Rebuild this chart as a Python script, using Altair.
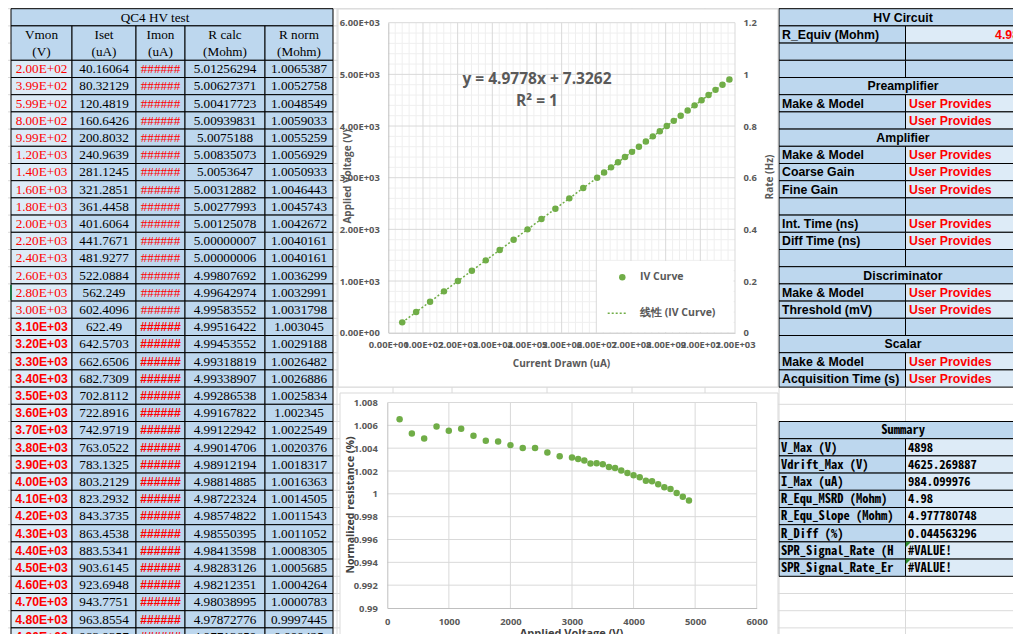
import altair as alt
import pandas as pd

# ---------------- values read from the sheet ----------------
table_title = "QC4 HV test"
col_headers = ["Vmon", "Iset", "Imon", "R calc", "R norm"]
col_units = ["(V)", "(uA)", "(uA)", "(Mohm)", "(Mohm)"]

vmon = [200, 399, 599, 800, 999, 1200, 1400, 1600, 1800, 2000, 2200, 2400, 2600, 2800, 3000,
        3100, 3200, 3300, 3400, 3500, 3600, 3700, 3800, 3900, 4000, 4100, 4200, 4300, 4400,
        4500, 4600, 4700, 4800, 4900]
iset = [40.16064, 80.32129, 120.4819, 160.6426, 200.8032, 240.9639, 281.1245, 321.2851,
        361.4458, 401.6064, 441.7671, 481.9277, 522.0884, 562.249, 602.4096, 622.49,
        642.5703, 662.6506, 682.7309, 702.8112, 722.8916, 742.9719, 763.0522, 783.1325,
        803.2129, 823.2932, 843.3735, 863.4538, 883.5341, 903.6145, 923.6948, 943.7751,
        963.8554, 983.9357]
imon_shown = "######"
rcalc = [5.01256294, 5.00627371, 5.00417723, 5.00939831, 5.0075188, 5.00835073, 5.0053647,
         5.00312882, 5.00277993, 5.00125078, 5.00000007, 5.00000006, 4.99807692, 4.99642974,
         4.99583552, 4.99516422, 4.99453552, 4.99318819, 4.99338907, 4.99286538, 4.99167822,
         4.99122942, 4.99014706, 4.98912194, 4.98814885, 4.98722324, 4.98574822, 4.98550395,
         4.98413598, 4.98283126, 4.98212351, 4.98038995, 4.97872776, 4.97713659]
rnorm = [1.0065387, 1.0052758, 1.0048549, 1.0059033, 1.0055259, 1.0056929, 1.0050933,
         1.0046443, 1.0045743, 1.0042672, 1.0040161, 1.0040161, 1.0036299, 1.0032991,
         1.0031798, 1.003045, 1.0029188, 1.0026482, 1.0026886, 1.0025834, 1.002345,
         1.0022549, 1.0020376, 1.0018317, 1.0016363, 1.0014505, 1.0011543, 1.0011052,
         1.0008305, 1.0005685, 1.0004264, 1.0000783, 0.9997445, 0.999425]

fit_equation = "y = 4.9778x + 7.3262"
fit_r2 = "R² = 1"
legend_labels = ["IV Curve", "线性 (IV Curve)"]
iv_title_x = "Current Drawn (uA)"
iv_title_y = "Applied Voltage (V)"
iv_title_y2 = "Rate (Hz)"
rn_title_x = "Applied Voltage (V)"
rn_title_y = "Normalized resistance (%)"

iv_x_ticks = [0, 100, 200, 300, 400, 500, 600, 700, 800, 900, 1000]
iv_y_ticks = [0, 1000, 2000, 3000, 4000, 5000, 6000]
rate_ticks = [0, 0.2, 0.4, 0.6, 0.8, 1, 1.2]
rn_x_ticks = [0, 1000, 2000, 3000, 4000, 5000, 6000]
rn_y_ticks = [0.99, 0.992, 0.994, 0.996, 0.998, 1.0, 1.002, 1.004, 1.006, 1.008]

panel_kind = ["head", "row", "blank", "blank", "head", "row", "row", "head", "row", "row",
              "row", "blank", "row", "row", "blank", "head", "row", "row", "blank", "head",
              "row", "row"]
panel_label = ["HV Circuit", "R_Equiv (Mohm)", "", "", "Preamplifier", "Make & Model", "",
               "Amplifier", "Make & Model", "Coarse Gain", "Fine Gain", "", "Int. Time (ns)",
               "Diff Time (ns)", "", "Discriminator", "Make & Model", "Threshold (mV)", "",
               "Scalar", "Make & Model", "Acquisition Time (s)"]
panel_value = ["", "4.98", "", "", "", "User Provides", "User Provides", "", "User Provides",
               "User Provides", "User Provides", "", "User Provides", "User Provides", "", "",
               "User Provides", "User Provides", "", "", "User Provides", "User Provides"]
summary_title = "Summary"
summary_label = ["V_Max (V)", "Vdrift_Max (V)", "I_Max (uA)", "R_Equ_MSRD (Mohm)",
                 "R_Equ_Slope (Mohm)", "R_Diff (%)", "SPR_Signal_Rate (H", "SPR_Signal_Rate_Er"]
summary_value = ["4898", "4625.269887", "984.099976", "4.98", "4.977780748", "0.044563296",
                 "#VALUE!", "#VALUE!"]

# ---------------- layout (page pixels) ----------------
W, H = 1005, 626
OX, OY = 8, 8
ROW_TOP, ROW_H = 8.7, 17.2
N_ROWS = 38


def ry(k):
    return ROW_TOP + ROW_H * k


def rc(k):
    return ry(k) + ROW_H / 2 + 0.3


L_EDGES = [11, 72, 136, 185, 265, 333]
R_EDGES = [779, 905.5, 1090]
SHEET_COLS = [72, 136, 185, 265, 337, 393, 452, 547, 632, 705, 779, 905.5]
C1_BOX = (338, 9, 778, 387)
C1_X0, C1_X1, C1_Y0, C1_Y1 = 388.3, 735, 332.7, 22.7
C2_BOX = (340, 393, 778, 670)
C2_X0, C2_X1, C2_Y0, C2_Y1 = 387.3, 756.7, 608, 402.5

MID, LIGHT, RED, GREEN, INK = "#BDD7EE", "#DDEBF7", "#FF0000", "#70AD47", "#595959"
SERIF, SANS, CF = "Liberation Serif", "Liberation Sans", "Open Sans"
MONO = "Noto Sans Mono CJK SC, Liberation Mono"

PXS = alt.Scale(domain=[OX, OX + W], range=[0, W])
PYS = alt.Scale(domain=[OY, OY + H], range=[0, H])


def px(f):
    return alt.X(f"{f}:Q", scale=PXS, axis=None)


def py(f):
    return alt.Y(f"{f}:Q", scale=PYS, axis=None)


def rect_layer(rows, stroke="black", sw=1.0):
    df = pd.DataFrame(rows, columns=["x1", "y1", "x2", "y2", "fill"])
    return alt.Chart(df).mark_rect(stroke=stroke, strokeWidth=sw).encode(
        x=px("x1"), x2="x2", y=py("y1"), y2="y2", fill=alt.Fill("fill:N", scale=None))


def rule_layer(rows, color, width=1.0, dash=None):
    df = pd.DataFrame(rows, columns=["x1", "y1", "x2", "y2"])
    kw = dict(color=color, strokeWidth=width)
    if dash:
        kw["strokeDash"] = dash
    return alt.Chart(df).mark_rule(**kw).encode(x=px("x1"), x2="x2", y=py("y1"), y2="y2")


def text_layer(rows, font, size, weight="normal", align="center", angle=0):
    df = pd.DataFrame(rows, columns=["x", "y", "t", "c"])
    return alt.Chart(df).mark_text(font=font, fontSize=size, fontWeight=weight, align=align,
                                   baseline="middle", angle=angle).encode(
        x=px("x"), y=py("y"), text="t:N", color=alt.Color("c:N", scale=None))


layers = []

# spreadsheet gridlines
layers.append(rule_layer([(OX, ry(k), OX + W, ry(k)) for k in range(N_ROWS)]
                         + [(x, OY, x, OY + H) for x in SHEET_COLS], "#DADADA"))

# ---------------- left table ----------------
cells = [(L_EDGES[0], ry(0), L_EDGES[-1], ry(1), MID)]
for c in range(5):
    cells.append((L_EDGES[c], ry(1), L_EDGES[c + 1], ry(3), MID))
for r in range(len(vmon)):
    for c in range(5):
        cells.append((L_EDGES[c], ry(3 + r), L_EDGES[c + 1], ry(4 + r), LIGHT if c == 0 else MID))
layers.append(rect_layer(cells))
layers.append(rule_layer([(11, ry(16) + 1, 11, ry(17) - 1)], "#217346", 2))

cx = [(L_EDGES[c] + L_EDGES[c + 1]) / 2 for c in range(5)]
serif_txt = [(155, rc(0), table_title, "black")]
sans_txt = []
for c in range(5):
    serif_txt.append((cx[c], rc(1), col_headers[c], "black"))
    serif_txt.append((cx[c], rc(2), col_units[c], "black"))
for r in range(len(vmon)):
    k = 3 + r
    red_items = [(cx[0], rc(k), f"{vmon[r]:.2E}", RED), (cx[2], rc(k), imon_shown, RED)]
    if r < 15:
        serif_txt += red_items
    else:
        sans_txt += red_items
    serif_txt.append((cx[1], rc(k), str(iset[r]), "black"))
    serif_txt.append((cx[3], rc(k), str(rcalc[r]), "black"))
    serif_txt.append((cx[4], rc(k), str(rnorm[r]), "black"))
layers.append(text_layer(serif_txt, SERIF, 13.2))
layers.append(text_layer(sans_txt, SANS, 12.2, "bold"))

# ---------------- right panel ----------------
pcells, head_txt, lab_txt, val_txt, val_r_txt = [], [], [], [], []
for i, kind in enumerate(panel_kind):
    if kind == "head":
        pcells.append((R_EDGES[0], ry(i), R_EDGES[2], ry(i + 1), MID))
        head_txt.append((903, rc(i), panel_label[i], "black"))
    else:
        pcells.append((R_EDGES[0], ry(i), R_EDGES[1], ry(i + 1), MID))
        pcells.append((R_EDGES[1], ry(i), R_EDGES[2], ry(i + 1), LIGHT if kind == "row" else MID))
        if panel_label[i]:
            lab_txt.append((782, rc(i), panel_label[i], "black"))
        if panel_value[i] == "User Provides":
            val_txt.append((909, rc(i), panel_value[i], RED))
        elif panel_value[i]:
            val_r_txt.append((1019, rc(i), panel_value[i], RED))
S0 = 24
pcells.append((R_EDGES[0], ry(S0), R_EDGES[2], ry(S0 + 1), MID))
for j in range(len(summary_label)):
    pcells.append((R_EDGES[0], ry(S0 + 1 + j), R_EDGES[1], ry(S0 + 2 + j), MID))
    pcells.append((R_EDGES[1], ry(S0 + 1 + j), R_EDGES[2], ry(S0 + 2 + j), LIGHT))
layers.append(rect_layer(pcells))
layers.append(text_layer(head_txt, SANS, 12.3, "bold"))
layers.append(text_layer(lab_txt, SANS, 12.3, "bold", "left"))
layers.append(text_layer(val_txt, SANS, 12.3, "bold", "left"))
layers.append(text_layer(val_r_txt, SANS, 12.3, "bold", "right"))
layers.append(text_layer([(903, rc(S0), summary_title, "black")], MONO, 12.5, "bold"))
layers.append(text_layer([(781, rc(S0 + 1 + j), summary_label[j], "black") for j in range(len(summary_label))],
                         MONO, 12.5, "bold", "left"))
layers.append(text_layer([(908, rc(S0 + 1 + j), summary_value[j], "black") for j in range(len(summary_value))],
                         MONO, 12.5, "bold", "left"))
tri = pd.DataFrame({"x": [908.5, 908.5], "y": [ry(S0 + 7) + 2.5, ry(S0 + 8) + 2.5]})
layers.append(alt.Chart(tri).mark_point(shape="M-1,-1L1,-1L-1,1Z", size=30, filled=True,
                                         color="#2E8B2E", opacity=1).encode(x=px("x"), y=py("y")))

# ---------------- chart scales ----------------
C1X = alt.Scale(domain=[0, 1000], range=[C1_X0 - OX, C1_X1 - OX])
C1Y = alt.Scale(domain=[0, 6000], range=[C1_Y0 - OY, C1_Y1 - OY])
C1R = alt.Scale(domain=[0, 1.2], range=[C1_Y0 - OY, C1_Y1 - OY])
C2X = alt.Scale(domain=[0, 6000], range=[C2_X0 - OX, C2_X1 - OX])
C2Y = alt.Scale(domain=[0.99, 1.008], range=[C2_Y0 - OY, C2_Y1 - OY])


def vgrid(values, xs, ys, lo, hi, color):
    df = pd.DataFrame({"v": values, "lo": lo, "hi": hi})
    return alt.Chart(df).mark_rule(color=color, strokeWidth=1).encode(
        x=alt.X("v:Q", scale=xs, axis=None), y=alt.Y("lo:Q", scale=ys, axis=None), y2="hi")


def hgrid(values, xs, ys, lo, hi, color):
    df = pd.DataFrame({"v": values, "lo": lo, "hi": hi})
    return alt.Chart(df).mark_rule(color=color, strokeWidth=1).encode(
        y=alt.Y("v:Q", scale=ys, axis=None), x=alt.X("lo:Q", scale=xs, axis=None), x2="hi")


def axis(orient, offset, values, pad, size, weight, expr=None, fmt=None, domain=True):
    kw = dict(orient=orient, offset=offset, values=values, ticks=False, grid=False,
              domain=domain, domainColor="#BFBFBF", labelFont=CF, labelFontSize=size,
              labelFontWeight=weight, labelColor=INK, labelPadding=pad, labelOverlap=False,
              labelFlush=False, labelBound=False, zindex=2)
    if expr:
        kw["labelExpr"] = expr
    if fmt:
        kw["format"] = fmt
    return alt.Axis(**kw)


SCI = "replace(format(datum.value, '.2e'), 'e+', 'E+0')"

# ---------------- chart 1: IV curve ----------------
layers.append(rect_layer([C1_BOX + ("white",)], stroke="#D9D9D9"))
layers.append(vgrid([v for v in range(0, 1001, 20) if v % 100], C1X, C1Y, 0, 6000, "#EFEFEF"))
layers.append(hgrid([v for v in range(0, 6001, 200) if v % 1000], C1X, C1Y, 0, 1000, "#EFEFEF"))
layers.append(vgrid(iv_x_ticks[1:], C1X, C1Y, 0, 6000, "#D9D9D9"))
layers.append(hgrid(iv_y_ticks[1:], C1X, C1Y, 0, 1000, "#D9D9D9"))
layers.append(rect_layer([(597, 261, 733.5, 332, "white")], stroke="white", sw=0.1))

iv_df = pd.DataFrame({"iset": iset, "vmon": vmon})
layers.append(alt.Chart(iv_df).transform_regression("iset", "vmon").mark_line(
    color=GREEN, strokeWidth=1.5, strokeDash=[2, 2]).encode(
    x=alt.X("iset:Q", scale=C1X, axis=None), y=alt.Y("vmon:Q", scale=C1Y, axis=None)))
layers.append(alt.Chart(iv_df).mark_circle(size=42, color=GREEN, opacity=1).encode(
    x=alt.X("iset:Q", scale=C1X, title=None,
            axis=axis("bottom", (C1_Y0 - OY) - H, iv_x_ticks, 8, 9.4, "bold", expr=SCI)),
    y=alt.Y("vmon:Q", scale=C1Y, title=None,
            axis=axis("left", -(C1_X0 - OX), iv_y_ticks, 9, 9.4, "bold", expr=SCI))))
layers.append(alt.Chart(pd.DataFrame({"rate": rate_ticks})).mark_point(opacity=0).encode(
    y=alt.Y("rate:Q", scale=C1R, title=None,
            axis=axis("right", (C1_X1 - OX) - W, rate_ticks, 8, 9.4, "bold", fmt="~g",
                      domain=False))))

layers.append(text_layer([(537, 78.5, fit_equation, INK), (537, 101, fit_r2, INK)], CF, 15.5, "bold"))
layers.append(text_layer([(640, 277.3, legend_labels[0], INK), (640, 313.3, legend_labels[1], INK)],
                         CF, 10.5, "bold", "left"))
layers.append(alt.Chart(pd.DataFrame({"x": [622.3], "y": [277.3]})).mark_circle(
    size=42, color=GREEN, opacity=1).encode(x=px("x"), y=py("y")))
layers.append(rule_layer([(607.7, 313.3, 627, 313.3)], GREEN, 1.5, [2, 2]))
layers.append(text_layer([(561.5, 363.5, iv_title_x, INK)], CF, 10, "bold"))
layers.append(text_layer([(347.5, 176.5, iv_title_y, INK), (770, 177, iv_title_y2, INK)],
                         CF, 10, "bold", angle=270))

# ---------------- chart 2: normalized resistance ----------------
rn_df = pd.DataFrame({"vmon": vmon, "rnorm": rnorm})
layers.append(rect_layer([C2_BOX + ("white",)], stroke="#D9D9D9"))
layers.append(vgrid(rn_x_ticks[1:], C2X, C2Y, 0.99, 1.008, "#D9D9D9"))
layers.append(hgrid(rn_y_ticks[1:], C2X, C2Y, 0, 6000, "#D9D9D9"))
layers.append(alt.Chart(rn_df).mark_circle(size=42, color=GREEN, opacity=1).encode(
    x=alt.X("vmon:Q", scale=C2X, title=None,
            axis=axis("bottom", (C2_Y0 - OY) - H, rn_x_ticks, 9, 9.4, "bold", fmt="d")),
    y=alt.Y("rnorm:Q", scale=C2Y, title=None,
            axis=axis("left", -(C2_X0 - OX), rn_y_ticks, 10, 9.4, "bold", fmt="~g"))))
layers.append(text_layer([(571.5, 633.5, rn_title_x, "#404040")], CF, 11, "bold"))
layers.append(text_layer([(350.5, 505, rn_title_y, "#404040")], CF, 10.5, "bold", angle=270))

chart = alt.layer(*layers).resolve_scale(x="independent", y="independent").properties(
    width=W, height=H, padding=0, autosize="none", background="white"
).configure_view(stroke=None)

chart.save("out.html", embed_options={"renderer": "svg", "actions": False})
